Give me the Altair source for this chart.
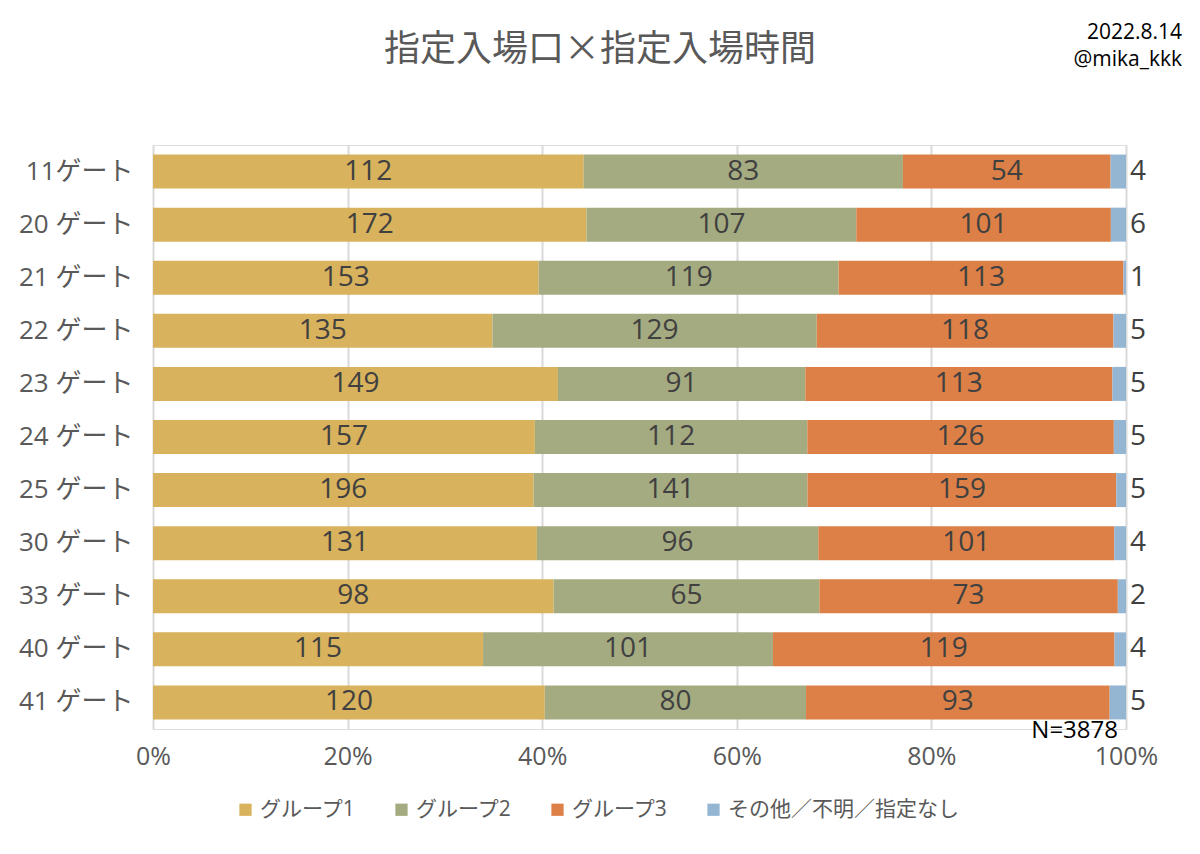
import altair as alt
import pandas as pd

gates = ["11ゲート", "20 ゲート", "21 ゲート", "22 ゲート", "23 ゲート", "24 ゲート",
         "25 ゲート", "30 ゲート", "33 ゲート", "40 ゲート", "41 ゲート"]
groups = ["グループ1", "グループ2", "グループ3", "その他／不明／指定なし"]
g1 = [112, 172, 153, 135, 149, 157, 196, 131, 98, 115, 120]
g2 = [83, 107, 119, 129, 91, 112, 141, 96, 65, 101, 80]
g3 = [54, 101, 113, 118, 113, 126, 159, 101, 73, 119, 93]
other = [4, 6, 1, 5, 5, 5, 5, 4, 2, 4, 5]
colors = ["#D8B25C", "#A5AB81", "#DD8047", "#94B6D2"]
x_ticks = [0, 0.2, 0.4, 0.6, 0.8, 1.0]

rows = []
for i, gate in enumerate(gates):
    for j, series in enumerate([g1, g2, g3, other]):
        rows.append({"gate": gate, "group": groups[j], "order": j, "value": series[i]})
df = pd.DataFrame(rows)

FONT = "Open Sans, Noto Sans CJK JP"
CJK = "Noto Sans CJK JP"
W, H = 973, 584

base = alt.Chart(df).transform_stack(
    stack="value", groupby=["gate"], as_=["v0", "v1"],
    sort=[alt.SortField("order", "ascending")], offset="normalize"
).transform_calculate(mid="(datum.v0 + datum.v1) / 2")

y_enc = alt.Y("gate:N", sort=gates,
              scale=alt.Scale(paddingInner=0.36, paddingOuter=0.18),
              axis=alt.Axis(title=None, labelFontSize=26, labelColor="#595959",
                            labelPadding=20, ticks=False, domain=False, labelFont=FONT))

bars = base.mark_bar().encode(
    y=y_enc,
    x=alt.X("v0:Q", scale=alt.Scale(domain=[0, 1]),
            axis=alt.Axis(format="%", values=x_ticks, title=None, grid=True,
                          gridColor="#D9D9D9", gridWidth=2, domain=False, ticks=False,
                          labelFontSize=25, labelColor="#595959", labelPadding=15,
                          labelFlush=False, labelFont=FONT)),
    x2="v1:Q",
    color=alt.Color("group:N", scale=alt.Scale(domain=groups, range=colors),
                    legend=alt.Legend(title=None, orient="none", legendX=82, legendY=654,
                                      direction="horizontal", symbolType="square",
                                      symbolSize=150, symbolStrokeWidth=0,
                                      labelFontSize=21, labelColor="#595959",
                                      labelFont=FONT, columnPadding=34, labelOffset=4,
                                      labelLimit=400)),
)

inner_text = base.transform_filter(alt.datum.order < 3).mark_text(
    fontSize=28, color="#404040", align="center", baseline="middle", font=FONT
).encode(y=alt.Y("gate:N", sort=gates), x="mid:Q", text="value:Q")

other_text = base.transform_filter(alt.datum.order == 3).mark_text(
    fontSize=28, color="#404040", align="left", baseline="middle", dx=4, font=FONT
).encode(y=alt.Y("gate:N", sort=gates), x="v1:Q", text="value:Q")

title_df = pd.DataFrame({"t": ["指定入場口×指定入場時間"]})
title_text = alt.Chart(title_df).mark_text(
    fontSize=36, color="#595959", align="center", baseline="middle", font=CJK
).encode(text="t:N", x=alt.value(447), y=alt.value(-95))

info = pd.DataFrame({"t": ["2022.8.14"]})
date_text = alt.Chart(info).mark_text(
    fontSize=21, color="#000000", align="right", baseline="middle", font=FONT
).encode(text="t:N", x=alt.value(1029), y=alt.value(-112))

handle = pd.DataFrame({"t": ["@mika_kkk"]})
handle_text = alt.Chart(handle).mark_text(
    fontSize=21, color="#000000", align="right", baseline="middle", font=FONT
).encode(text="t:N", x=alt.value(1029), y=alt.value(-85))

ntext = pd.DataFrame({"t": ["N=3878"]})
n_text = alt.Chart(ntext).mark_text(
    fontSize=24, color="#000000", align="right", baseline="middle", font=FONT
).encode(text="t:N", x=alt.value(965), y=alt.value(586))

chart = alt.layer(bars, inner_text, other_text, title_text, date_text, handle_text, n_text).properties(
    width=W, height=H,
    autosize=alt.AutoSizeParams(type="none"),
    padding={"left": 145, "top": 137, "right": 60, "bottom": 110},
).configure_view(stroke=None).configure(font=FONT)

chart.save("out.html", embed_options={"renderer": "svg", "actions": False})
